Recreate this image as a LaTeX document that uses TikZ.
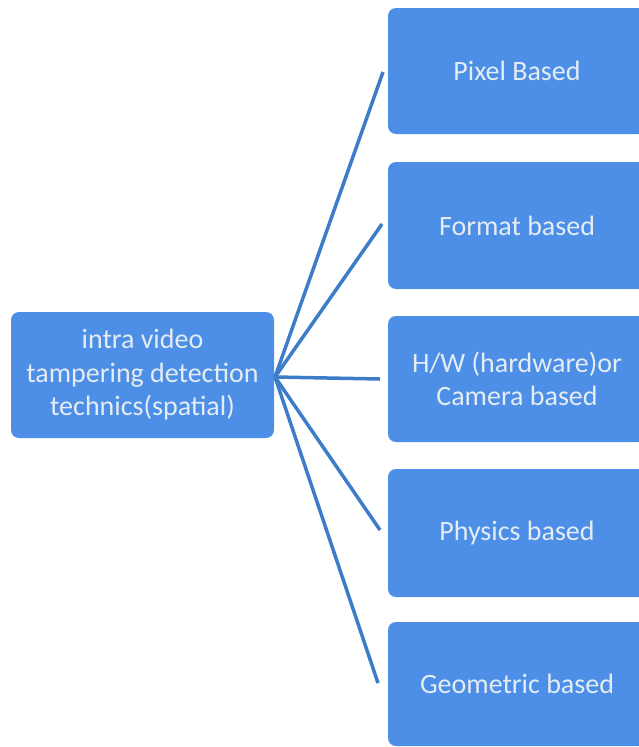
\documentclass[tikz,border=0pt]{standalone}
\usepackage{fontspec}
\setmainfont{Carlito}
\definecolor{boxblue}{HTML}{4D8FE6}
\definecolor{linkblue}{HTML}{3D7CC9}
\definecolor{boxtext}{HTML}{E4ECF4}
\begin{document}
\begin{tikzpicture}[x=1pt,y=-1pt,
  catbox/.style={rectangle, rounded corners=8pt, fill=boxblue, draw=none,
    text=boxtext, align=center, inner sep=0pt,
    font=\fontsize{28}{33.5}\selectfont},
  link/.style={draw=linkblue, line width=3.5pt}]
  \useasboundingbox (0,0) rectangle (639,747);
  \clip (0,0) rectangle (639,747);
  % root
  \node[catbox, minimum width=263pt, minimum height=126pt] (root) at (142.5,375)
    {intra video\\tampering detection\\technics(spatial)};
  % categories
  \node[catbox, minimum width=258pt, minimum height=126pt] (c1) at (517,71) {Pixel Based};
  \node[catbox, minimum width=258pt, minimum height=127pt] (c2) at (517,225.5) {Format based};
  \node[catbox, minimum width=258pt, minimum height=126pt] (c3) at (517,379) {H/W (hardware)or\\Camera based};
  \node[catbox, minimum width=258pt, minimum height=128pt] (c4) at (517,533) {Physics based};
  \node[catbox, minimum width=258pt, minimum height=124pt] (c5) at (517,684) {Geometric based};
  % connector ends
  \coordinate (hub) at (275,377);
  \coordinate (e1) at (383,72);
  \coordinate (e2) at (382,224);
  \coordinate (e3) at (380,379);
  \coordinate (e4) at (380,530);
  \coordinate (e5) at (378,683);
  \foreach \e in {e1,e2,e3,e4,e5} \draw[link] (hub) -- (\e);
\end{tikzpicture}
\end{document}
